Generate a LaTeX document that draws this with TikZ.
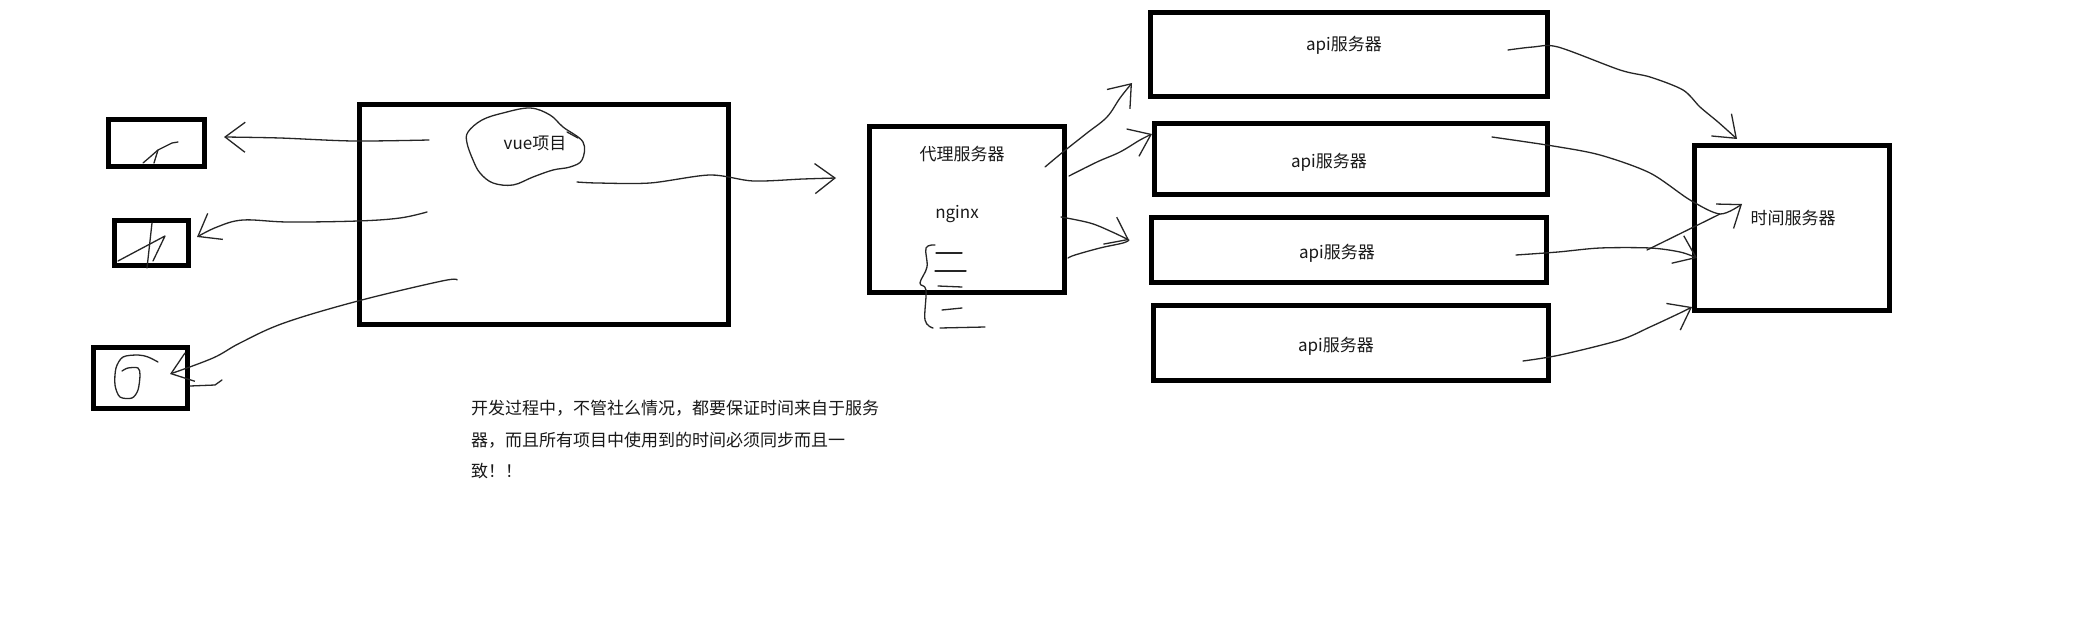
\documentclass[tikz,border=0pt]{standalone}
\usepackage{fontspec}
\setmainfont{Noto Sans CJK SC}
\usepackage{tikz}
\usetikzlibrary{arrows.meta}

\begin{document}
\begin{tikzpicture}[x=1pt, y=-1pt,
  box/.style={rectangle, draw=black, line width=5pt, inner sep=0pt},
  lbl/.style={inner sep=0pt, text=black!90, font=\fontsize{17}{20}\selectfont},
  sketch/.style={draw=black!85, line width=1.3pt, line cap=round, line join=round},
  arr/.style={sketch, -{Straight Barb[length=20pt, width=30pt]}}]
  \path[fill=white, use as bounding box] (0,0) rectangle (2100,636);

  % boxes
  \node[box, minimum width=96pt, minimum height=47pt] (client1) at (156.5,143) {};
  \node[box, minimum width=74pt, minimum height=45pt] (client2) at (151.5,243) {};
  \node[box, minimum width=94pt, minimum height=61pt] (client3) at (140.5,378) {};
  \node[box, minimum width=369pt, minimum height=220pt] (vue) at (544,214.5) {};
  \node[box, minimum width=195pt, minimum height=166pt] (proxy) at (967,209.5) {};
  \node[box, minimum width=397pt, minimum height=84pt] (api1) at (1349,54.5) {};
  \node[box, minimum width=393pt, minimum height=71pt] (api2) at (1351,159) {};
  \node[box, minimum width=395pt, minimum height=65pt] (api3) at (1349,250) {};
  \node[box, minimum width=395pt, minimum height=75pt] (api4) at (1351,343) {};
  \node[box, minimum width=195pt, minimum height=165pt] (timesrv) at (1792,228) {};

  % texts
  \node[lbl] (vuetext) at (535,143) {vue项目};
  \node[lbl] (proxytext) at (962,154) {代理服务器};
  \node[lbl] (nginx) at (957,214) {nginx};
  \node[lbl] (apitext1) at (1344,45) {api服务器};
  \node[lbl] (apitext2) at (1329,162) {api服务器};
  \node[lbl] (apitext3) at (1337,253) {api服务器};
  \node[lbl] (apitext4) at (1336,346) {api服务器};
  \node[lbl] (timetext) at (1793,218) {时间服务器};
  \node[lbl, anchor=north west, align=left, font=\fontsize{17}{31.5}\selectfont] (note) at (471,400)
    {开发过程中，不管社么情况，都要保证时间来自于服务\\器，而且所有项目中使用到的时间必须同步而且一\\致！！};

  % scribbles
  \draw[sketch] plot[smooth cycle, tension=0.6] coordinates {(468,132) (482,120) (503,113) (530,108) (550,115) (563,127) (583,142) (582,160) (570,167) (553,170) (533,177) (513,185) (493,183) (480,173) (473,160) (467,143)};
  \draw[sketch] (567,132) -- (578,138);
  \draw[sketch] (178,142) -- (172,143) -- (158,150) -- (154,163);
  \draw[sketch] (158,150) -- (150,157) -- (143,163);
  \draw[sketch] (152,223) -- (147,268);
  \draw[sketch] (118,261) -- (165,236) -- (153,261);
  \draw[sketch] plot[smooth, tension=0.5] coordinates {(158,362) (148,357) (138,355) (123,357) (116,368) (115,385) (120,397) (132,398) (138,390) (140,375) (138,368) (128,368) (122,371)};
  \draw[sketch] plot[smooth, tension=0.6] coordinates {(935,245) (926,248) (927,267) (920,283) (926,290) (925,320) (933,328)};
  \draw[sketch] (936,253) -- (962,253);
  \draw[sketch] (935,271) -- (966,271);
  \draw[sketch] (938,286) -- (962,287);
  \draw[sketch] (942,310) -- (962,308);
  \draw[sketch] (940,328) -- (985,327);

  % ends of the hand drawn connectors
  \coordinate (va) at (429,140);
  \coordinate (vb) at (427,212);
  \coordinate (vc) at (457,280);
  \coordinate (vd) at (577,182);
  \coordinate (ta) at (224,137);
  \coordinate (tb) at (197,237);
  \coordinate (tc) at (170,374);
  \coordinate (td) at (836,178);
  \coordinate (pa) at (1045,167);
  \coordinate (pb) at (1069,176);
  \coordinate (pc) at (1061,217);
  \coordinate (qa) at (1132,83);
  \coordinate (qb) at (1152,134);
  \coordinate (qc) at (1129,240);
  \coordinate (sa) at (1508,50);
  \coordinate (sb) at (1492,137);
  \coordinate (sc) at (1516,255);
  \coordinate (sd) at (1523,361);
  \coordinate (ra) at (1737,139);
  \coordinate (rb) at (1742,204);
  \coordinate (rc) at (1697,258);
  \coordinate (rd) at (1692,307);

  % vue -> clients
  \draw[arr] plot[smooth, tension=0.5] coordinates {(va) (353,141) (280,138) (ta)};
  \draw[arr] plot[smooth, tension=0.6] coordinates {(vb) (400,218) (358,221) (288,222) (243,220) (217,227) (tb)};
  \draw[arr] plot[smooth, tension=0.6] coordinates {(vc) (442,281) (358,301) (284,323) (240,343) (213,358) (tc)};
  \draw[sketch] (190,386) -- (215,385) -- (222,380);

  % vue -> proxy
  \draw[arr] plot[smooth, tension=0.5] coordinates {(vd) (597,183) (650,183) (710,175) (753,181) (803,179) (td)};

  % proxy -> api
  \draw[arr] plot[smooth, tension=0.6] coordinates {(pa) (1063,152) (1087,133) (1107,117) (1120,98) (qa)};
  \draw[arr] plot[smooth, tension=0.6] coordinates {(pb) (1097,162) (1120,152) (1140,140) (qb)};
  \draw[arr] plot[smooth, tension=0.6] coordinates {(pc) (1090,223) (1110,231) (qc)};
  \draw[sketch] plot[smooth, tension=0.6] coordinates {(1068,258) (1075,255) (1100,248) (1123,243) (qc)};

  % api -> time
  \draw[arr] plot[smooth, tension=0.5] coordinates {(sa) (1533,47) (1558,47) (1620,70) (1650,77) (1683,90) (1700,107) (1718,122) (ra)};
  \draw[arr] plot[smooth, tension=0.5] coordinates {(sb) (1553,146) (1600,155) (1650,173) (1690,200) (1720,214) (rb)};
  \draw[sketch] (1720,214) -- (1647,250);
  \draw[arr] plot[smooth, tension=0.5] coordinates {(sc) (1558,252) (1600,248) (1650,248) (1680,252) (rc)};
  \draw[arr] plot[smooth, tension=0.5] coordinates {(sd) (1560,355) (1620,340) (1650,327) (1680,313) (rd)};
\end{tikzpicture}
\end{document}
